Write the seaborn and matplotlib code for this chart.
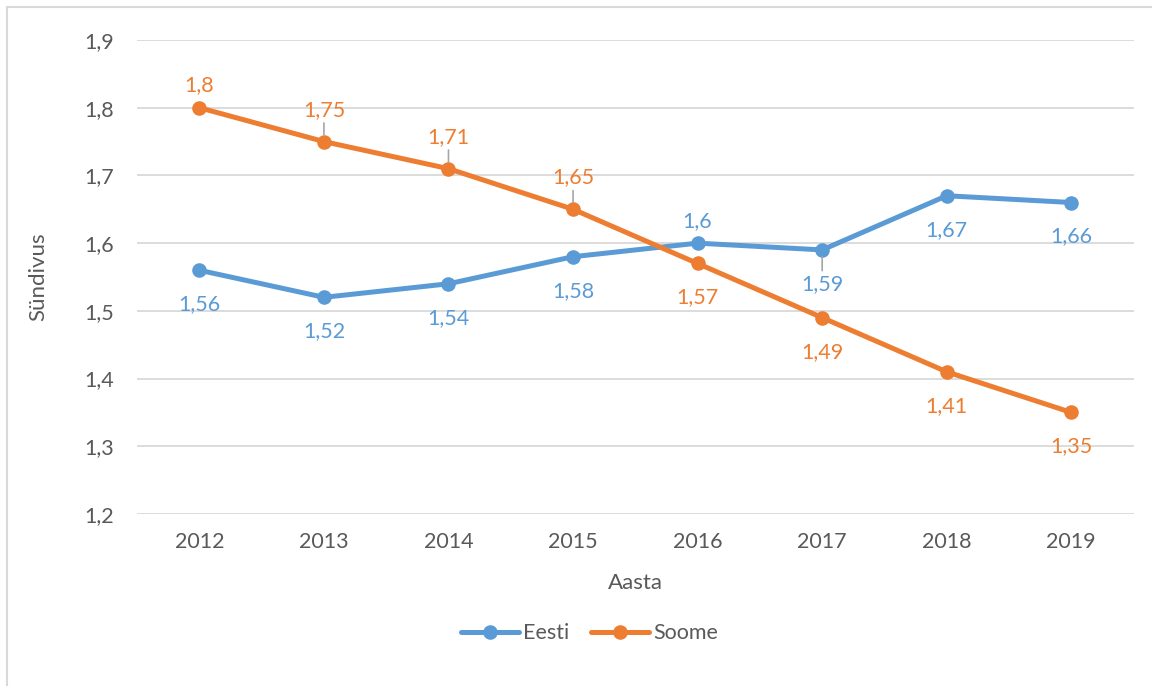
import pandas as pd
import matplotlib.pyplot as plt
import seaborn as sns
from matplotlib.lines import Line2D
from matplotlib.patches import Rectangle

# === Data ===
years = [2012, 2013, 2014, 2015, 2016, 2017, 2018, 2019]
eesti = [1.56, 1.52, 1.54, 1.58, 1.60, 1.59, 1.67, 1.66]
soome = [1.80, 1.75, 1.71, 1.65, 1.57, 1.49, 1.41, 1.35]
y_ticks = [1.2, 1.3, 1.4, 1.5, 1.6, 1.7, 1.8, 1.9]

colors = {"Eesti": "#5B9BD5", "Soome": "#ED7D31"}
# label placement: a = above, b = below, la = above with leader line, lb = below with leader line
placement = {
    "Eesti": ["b", "b", "b", "b", "a", "lb", "b", "b"],
    "Soome": ["a", "la", "la", "la", "b", "b", "b", "b"],
}

df = pd.DataFrame({
    "Aasta": years * 2,
    "Sündivus": eesti + soome,
    "Riik": ["Eesti"] * len(years) + ["Soome"] * len(years),
})

sns.set_style("white")
plt.rcParams["font.family"] = ["Lato", "DejaVu Sans"]
txt = "#595959"

fig = plt.figure(figsize=(11.52, 6.86), dpi=100)
ax = fig.add_axes([0.119, 0.2507, 0.865, 0.691])

sns.lineplot(data=df, x="Aasta", y="Sündivus", hue="Riik", palette=colors,
             marker="o", markersize=10.5, markeredgewidth=0, linewidth=3.6,
             ax=ax, legend=False)

# data labels
for name, vals in [("Eesti", eesti), ("Soome", soome)]:
    for x, v, p in zip(years, vals, placement[name]):
        s = f"{v:g}".replace(".", ",")
        if p == "a":
            dy = 16
        elif p == "la":
            dy = 23
        else:
            dy = -24.5
        kw = {}
        if p.startswith("l"):
            kw["arrowprops"] = dict(arrowstyle="-", color="#a6a6a6", lw=1.2,
                                    shrinkA=0, shrinkB=5)
        ax.annotate(s, xy=(x, v), xytext=(0, dy), textcoords="offset points",
                    ha="center", va="center", fontsize=15.5, color=colors[name],
                    **kw)

ax.set_xlim(2011.5, 2019.5)
ax.set_ylim(1.2, 1.9)
ax.set_xticks(years)
ax.set_xticklabels([str(y) for y in years])
ax.set_yticks(y_ticks)
ax.set_yticklabels([f"{t:.1f}".replace(".", ",") for t in y_ticks])
ax.tick_params(axis="x", length=0, pad=13, labelsize=15.5, labelcolor=txt)
ax.tick_params(axis="y", length=0, pad=16.5, labelsize=15.5, labelcolor=txt)
ax.grid(axis="y", color="#d9d9d9", linewidth=1.3)
ax.grid(axis="x", visible=False)
ax.set_axisbelow(True)
for sp in ax.spines.values():
    sp.set_visible(False)

ax.set_xlabel("Aasta", fontsize=16, color=txt, va="center")
ax.xaxis.set_label_coords(0.5, -0.1456)
ax.set_ylabel("Sündivus", fontsize=16, color=txt, va="center")
ax.yaxis.set_label_coords(-0.0993, 0.5)

handles = [Line2D([], [], color=colors[n], lw=3.6, marker="o", markersize=10.5,
                  markeredgewidth=0) for n in ["Eesti", "Soome"]]
fig.legend(handles, ["Eesti", "Soome"], loc="center", bbox_to_anchor=(0.512, 0.077),
           ncol=2, frameon=False, fontsize=15.5, labelcolor=txt,
           handlelength=2.7, handletextpad=0.2, columnspacing=1.0)

# chart border (only left/top visible in frame)
fig.patches.append(Rectangle((7 / 1152, -0.1), 1.2, 1.1 - 7 / 686, transform=fig.transFigure,
                             fill=False, edgecolor="#d9d9d9", linewidth=1.5))

fig.savefig("out.png", dpi=100)
